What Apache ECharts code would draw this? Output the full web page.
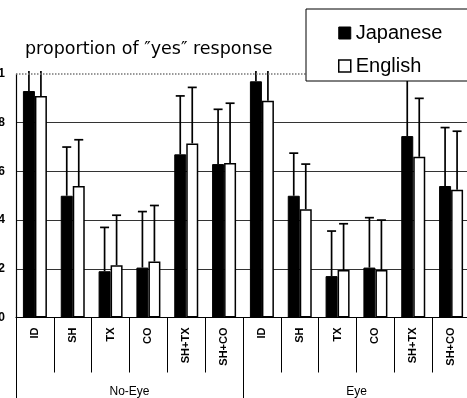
<!DOCTYPE html>
<html>
<head>
<meta charset="utf-8">
<script src="https://cdn.jsdelivr.net/npm/echarts@6/dist/echarts.min.js"></script>
<style>
  html, body { margin: 0; padding: 0; background: #fff; }
  #chart { width: 467px; height: 398px; }
</style>
</head>
<body>
<div id="chart"></div>
<script>
// Conditions, shown twice: once without and once with eye contact
const conditions = ['ID', 'SH', 'TX', 'CO', 'SH+TX', 'SH+CO', 'ID', 'SH', 'TX', 'CO', 'SH+TX', 'SH+CO'];
const groups = ['No-Eye', 'Eye'];

// Mean proportion of "yes" responses
const japanese = [0.93, 0.50, 0.19, 0.205, 0.67, 0.63, 0.97, 0.50, 0.17, 0.205, 0.745, 0.54];
const english  = [0.91, 0.54, 0.215, 0.23, 0.715, 0.635, 0.89, 0.445, 0.195, 0.195, 0.66, 0.525];

// Upper end of each error bar (values above 1 run off the top of the plot)
const japaneseErrTop = [1.05, 0.70, 0.37, 0.435, 0.91, 0.855, 1.05, 0.675, 0.355, 0.41, 1.0, 0.78];
const englishErrTop  = [1.05, 0.73, 0.42, 0.46, 0.945, 0.88, 1.05, 0.63, 0.385, 0.40, 0.90, 0.765];

const yMin = 0, yMax = 1, yStep = 0.2;

const FONT = '"Liberation Sans", Arial, sans-serif';
const BAR_W = 12;

function errorBars(offset) {
  return function (params, api) {
    const i = api.value(0);
    const v = api.value(1);
    const top = api.value(2);
    const base = api.coord([i, v]);
    const tip = api.coord([i, top]);
    const x = base[0] + offset;
    const plotTop = params.coordSys.y;
    const clipped = tip[1] < plotTop;
    const tipY = clipped ? plotTop - 3 : tip[1];
    const style = { stroke: '#000', lineWidth: 1.7 };
    const children = [{
      type: 'line',
      shape: { x1: x, y1: base[1], x2: x, y2: tipY },
      style: style
    }];
    if (!clipped) {
      children.push({
        type: 'line',
        shape: { x1: x - 4.5, y1: tipY, x2: x + 4.5, y2: tipY },
        style: style
      });
    }
    return { type: 'group', children: children };
  };
}

const chart = echarts.init(document.getElementById('chart'), null, { renderer: 'canvas' });

chart.setOption({
  animation: false,
  backgroundColor: '#fff',
  title: {
    text: 'proportion of \u2033yes\u2033 response',
    left: 20,
    top: 35,
    textStyle: { fontFamily: '"DejaVu Sans", sans-serif', fontSize: 17.5, fontWeight: 'normal', color: '#000' }
  },
  graphic: [{
    type: 'rect',
    z: 100,
    shape: { x: 306, y: 9, width: 200, height: 72 },
    style: { fill: '#fff', stroke: '#000', lineWidth: 1 }
  }],
  legend: {
    z: 200,
    left: 338,
    top: 23,
    padding: 0,
    orient: 'vertical',
    icon: 'rect',
    itemWidth: 12,
    itemHeight: 12,
    itemGap: 13,
    textStyle: { fontFamily: FONT, fontSize: 20, color: '#000' },
    data: [
      { name: 'Japanese', itemStyle: { color: '#000', borderColor: '#000', borderWidth: 1 } },
      { name: 'English', itemStyle: { color: '#fff', borderColor: '#000', borderWidth: 1.5 } }
    ]
  },
  grid: { left: 16, top: 74, width: 454, height: 243.5, containLabel: false, outerBoundsMode: 'none' },
  xAxis: [{
    type: 'category',
    data: conditions,
    position: 'bottom',
    axisLine: { show: true, lineStyle: { color: '#000', width: 1.2 } },
    axisTick: { show: true, interval: 0, length: 55, lineStyle: { color: '#000', width: 1 } },
    axisLabel: {
      interval: 0, rotate: 90, margin: 10,
      fontFamily: FONT, fontSize: 11, fontWeight: 'bold', color: '#000'
    }
  }, {
    type: 'category',
    data: groups,
    position: 'bottom',
    axisLine: { show: false },
    axisTick: { show: true, interval: 0, length: 90, lineStyle: { color: '#000', width: 1 } },
    axisLabel: {
      interval: 0, margin: 68,
      fontFamily: FONT, fontSize: 12, color: '#000'
    }
  }],
  yAxis: {
    type: 'value',
    min: yMin, max: yMax, interval: yStep,
    axisLine: { show: true, lineStyle: { color: '#000', width: 1.2 } },
    axisTick: { show: false },
    splitLine: {
      show: true,
      lineStyle: { color: ['#000', '#333', '#333', '#333', '#333', 'transparent'], width: 1 }
    },
    axisLabel: {
      margin: 11,
      fontFamily: FONT, fontSize: 12, fontWeight: 'bold', color: '#000',
      formatter: v => String(+v.toFixed(1))
    }
  },
  series: [{
    name: 'Japanese',
    type: 'bar',
    data: japanese,
    barWidth: BAR_W,
    barGap: '0%',
    itemStyle: { color: '#000', borderColor: '#000', borderWidth: 1 },
    markLine: {
      silent: true,
      symbol: 'none',
      label: { show: false },
      lineStyle: { color: '#777', type: 'dotted', width: 1.5 },
      data: [{ yAxis: yMax }]
    }
  }, {
    name: 'English',
    type: 'bar',
    data: english,
    barWidth: BAR_W,
    barGap: '0%',
    itemStyle: { color: '#fff', borderColor: '#000', borderWidth: 1.5 }
  }, {
    name: 'Japanese error',
    type: 'custom',
    renderItem: errorBars(-BAR_W / 2),
    encode: { x: 0, y: [1, 2] },
    data: conditions.map((c, i) => [i, japanese[i], japaneseErrTop[i]]),
    z: 3
  }, {
    name: 'English error',
    type: 'custom',
    renderItem: errorBars(BAR_W / 2),
    encode: { x: 0, y: [1, 2] },
    data: conditions.map((c, i) => [i, english[i], englishErrTop[i]]),
    z: 3
  }]
});
</script>
</body>
</html>
